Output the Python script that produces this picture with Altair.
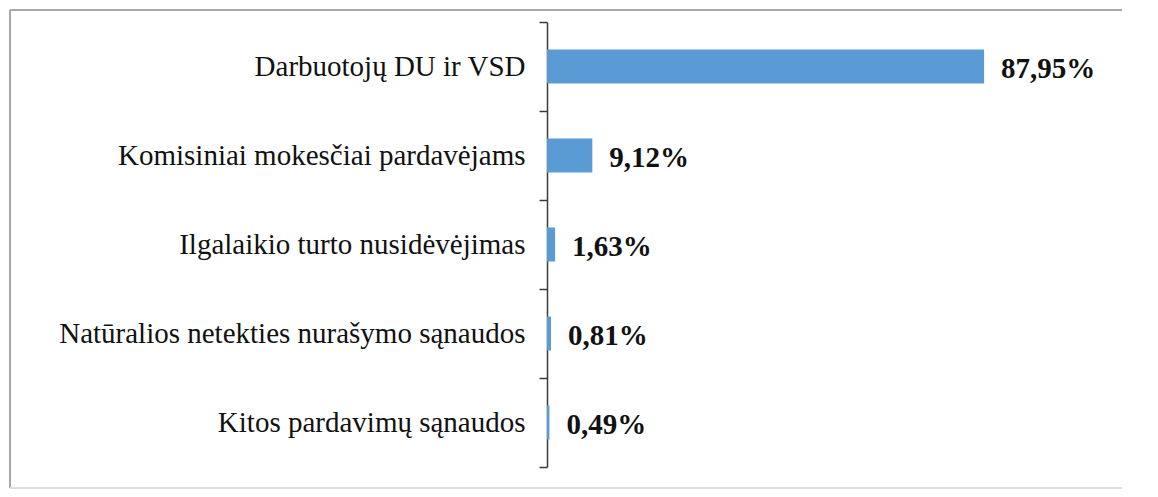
import altair as alt
import pandas as pd

categories = [
    "Darbuotojų DU ir VSD",
    "Komisiniai mokesčiai pardavėjams",
    "Ilgalaikio turto nusidėvėjimas",
    "Natūralios netekties nurašymo sąnaudos",
    "Kitos pardavimų sąnaudos",
]
values = [87.95, 9.12, 1.63, 0.81, 0.49]

df = pd.DataFrame({
    "cat": categories,
    "val": values,
    "label": [f"{v:.2f}".replace(".", ",") + "%" for v in values],
})

FONT = "Liberation Serif"

y_enc = alt.Y(
    "cat:N",
    sort=categories,
    title=None,
    scale=alt.Scale(paddingInner=0, paddingOuter=0),
    axis=alt.Axis(
        tickBand="extent",
        tickSize=8,
        tickColor="#3a3a3a",
        tickWidth=1.5,
        domainColor="#3a3a3a",
        domainWidth=1.5,
        labelFont=FONT,
        labelFontSize=29,
        labelColor="#111111",
        labelPadding=14,
        labelLimit=1000,
        grid=False,
    ),
)
x_enc = alt.X("val:Q", scale=alt.Scale(domain=[0, 100]), axis=None)

bars = alt.Chart(df).mark_bar(size=34, color="#5B9BD5").encode(x=x_enc, y=y_enc)

texts = alt.Chart(df).mark_text(
    align="left", baseline="middle", dx=17, dy=2,
    font=FONT, fontSize=29, fontWeight="bold", color="#111111",
).encode(x=x_enc, y=alt.Y("cat:N", sort=categories), text="label:N")

frame_top = alt.Chart(df).mark_rule(color="#a8a8a8", strokeWidth=1.5).encode(
    x=alt.value(-537), x2=alt.value(575), y=alt.value(-12)
)
frame_left = alt.Chart(df).mark_rule(color="#a8a8a8", strokeWidth=1.5).encode(
    x=alt.value(-537), y=alt.value(-12), y2=alt.value(466)
)
frame_bottom = alt.Chart(df).mark_rule(color="#dcdcdc", strokeWidth=1.5).encode(
    x=alt.value(-537), x2=alt.value(575), y=alt.value(466)
)

chart = (
    alt.layer(frame_top, frame_left, frame_bottom, bars, texts)
    .properties(
        width=497,
        height=445,
        background="white",
        autosize=alt.AutoSizeParams(type="none"),
        padding={"left": 539, "top": 14, "right": 106, "bottom": 22},
    )
    .configure_view(stroke=None, strokeWidth=0)
)

chart.save("out.html", embed_options={"renderer": "svg", "actions": False})
